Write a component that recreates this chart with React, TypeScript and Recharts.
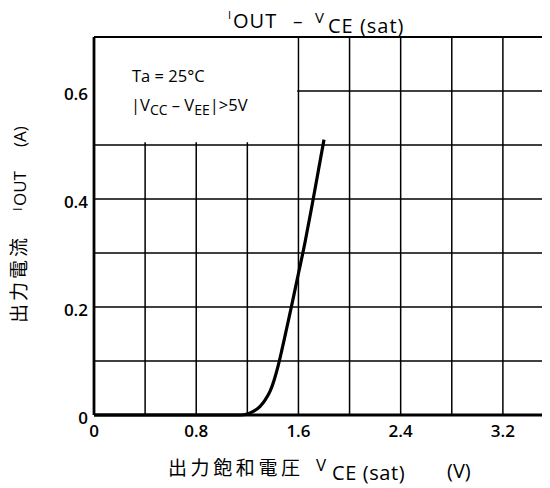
import React from 'react';
import {
  ComposedChart,
  Line,
  XAxis,
  YAxis,
  CartesianGrid,
  ReferenceArea,
  ReferenceLine,
} from 'recharts';

// V_CE(sat) in volts
const vce = [0, 0.4, 0.8, 1.15, 1.2, 1.25, 1.3, 1.34, 1.38, 1.41, 1.44, 1.47, 1.5, 1.54, 1.6, 1.65, 1.7, 1.75, 1.8];
// I_OUT in amperes
const iout = [0, 0, 0, 0, 0.002, 0.007, 0.016, 0.028, 0.045, 0.065, 0.09, 0.12, 0.152, 0.195, 0.262, 0.318, 0.38, 0.445, 0.51];

const xGridTicks = [0, 0.4, 0.8, 1.2, 1.6, 2.0, 2.4, 2.8, 3.2, 3.6];
const xLabelValues = [0, 0.8, 1.6, 2.4, 3.2];
const xTickLabels = ['0', '0.8', '1.6', '2.4', '3.2'];

const yGridTicks = [0, 0.1, 0.2, 0.3, 0.4, 0.5, 0.6, 0.7];
const yLabelValues = [0, 0.2, 0.4, 0.6];
const yTickLabels = ['0', '0.2', '0.4', '0.6'];

const data = vce.map((v, i) => ({ v, i: iout[i] }));

const LATIN = "'Open Sans', 'Noto Sans', sans-serif";
const CJK = "'Noto Sans CJK JP', 'Noto Sans', sans-serif";

const fmt = (values: number[], labels: string[]) => (val: number) => {
  const idx = values.findIndex((x) => Math.abs(x - val) < 1e-6);
  return idx >= 0 ? labels[idx] : '';
};

export default function App() {
  return (
    <div style={{ position: 'relative', width: 542, height: 480, overflow: 'hidden' }}>
      <ComposedChart
        width={560}
        height={480}
        data={data}
        margin={{ top: 29, right: 14, bottom: 43, left: 36 }}
      >
        <CartesianGrid stroke="#000" strokeWidth={1.5} />
        <ReferenceArea
          x1={0}
          x2={1.59}
          y1={0.505}
          y2={0.7}
          fill="#fff"
          fillOpacity={1}
          stroke="none"
          ifOverflow="visible"
        />
        <XAxis
          type="number"
          dataKey="v"
          domain={[0, 3.6]}
          ticks={xGridTicks}
          interval={0}
          tickFormatter={fmt(xLabelValues, xTickLabels)}
          tickLine={false}
          tickSize={6}
          tickMargin={4}
          height={30}
          axisLine={{ stroke: '#000', strokeWidth: 2.8 }}
          tick={{ fill: '#000', fontSize: 17, fontWeight: 600, fontFamily: LATIN }}
        />
        <YAxis
          type="number"
          domain={[0, 0.7]}
          ticks={yGridTicks}
          interval={0}
          tickFormatter={fmt(yLabelValues, yTickLabels)}
          tickLine={false}
          tickSize={4}
          tickMargin={2}
          width={50}
          axisLine={{ stroke: '#000', strokeWidth: 2.8 }}
          tick={{ fill: '#000', fontSize: 17, fontWeight: 600, fontFamily: LATIN, dy: 3 }}
        />
        <ReferenceLine y={0.7} stroke="#000" strokeWidth={2.2} />
        <Line
          type="monotone"
          dataKey="i"
          stroke="#000"
          strokeWidth={3.2}
          dot={false}
          isAnimationActive={false}
        />
      </ComposedChart>

      <svg
        width={542}
        height={480}
        style={{ position: 'absolute', left: 0, top: 0, pointerEvents: 'none' }}
      >
        {/* Title */}
        <g fontFamily={LATIN} fill="#000" fontWeight={500}>
          <text x={220} y={11} fontSize={11}>I</text>
          <text x={225} y={20} fontSize={20} letterSpacing={1}>OUT</text>
          <text x={285} y={20} fontSize={19}>–</text>
          <text x={307} y={15} fontSize={15}>V</text>
          <text x={320} y={25} fontSize={20} letterSpacing={1}>CE (sat)</text>
        </g>

        {/* Annotation */}
        <text fontFamily={LATIN} fill="#000" fontWeight={500} fontSize={16.5}>
          <tspan x={124} y={74}>Ta = 25°C</tspan>
        </text>
        <text fontFamily={LATIN} fill="#000" fontWeight={500} fontSize={16.5}>
          <tspan x={123} y={103}>|V</tspan>
          <tspan dy={4} fontSize={14}>CC</tspan>
          <tspan dy={-4}> – V</tspan>
          <tspan dy={4} fontSize={14}>EE</tspan>
          <tspan dy={-4}>|&gt;5V</tspan>
        </text>

        {/* X axis label */}
        <g fill="#000">
          <text x={160} y={467} fontSize={19} fontFamily={CJK} letterSpacing={3.6}>出力飽和電圧</text>
          <text x={308} y={463} fontSize={17} fontFamily={LATIN} fontWeight={500}>V</text>
          <text x={324} y={472} fontSize={20} fontFamily={LATIN} fontWeight={500} letterSpacing={0.6}>CE (sat)</text>
          <text x={439} y={470} fontSize={20} fontFamily={LATIN} fontWeight={500}>(V)</text>
        </g>

        {/* Y axis label */}
        <g transform="translate(18, 315) rotate(-90)" fill="#000">
          <text x={0} y={0} fontSize={19} fontFamily={CJK} letterSpacing={3}>出力電流</text>
          <text x={112} y={-4} fontSize={13} fontFamily={LATIN} fontWeight={500}>I</text>
          <text x={117} y={0} fontSize={17} fontFamily={LATIN} fontWeight={500}>OUT</text>
          <text x={176} y={0} fontSize={17} fontFamily={LATIN} fontWeight={500}>(A)</text>
        </g>
      </svg>
    </div>
  );
}
